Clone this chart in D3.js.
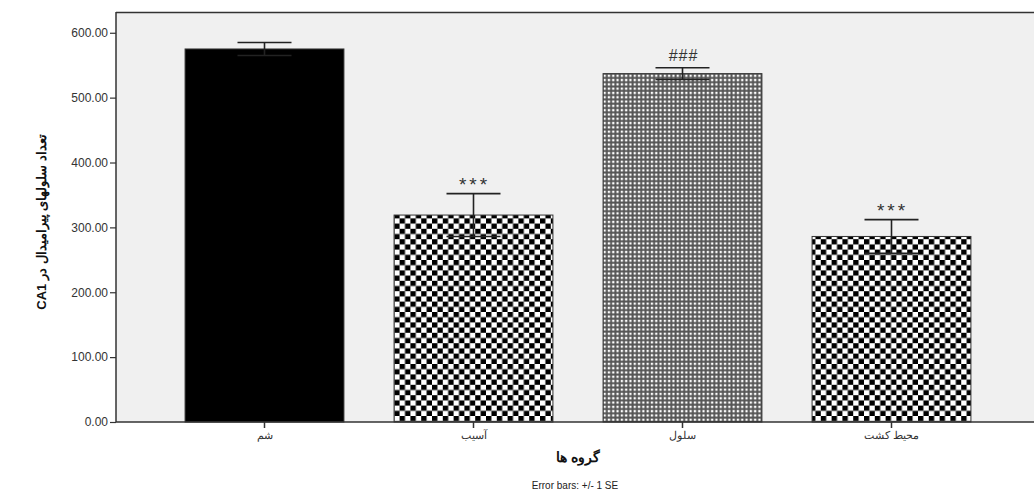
<!DOCTYPE html>
<html>
<head>
<meta charset="utf-8">
<script src="https://cdnjs.cloudflare.com/ajax/libs/d3/7.8.5/d3.min.js"></script>
<style>
  body { margin: 0; background: #fff; }
  text { font-family: "Liberation Sans", Arial, sans-serif; }
</style>
</head>
<body>
<script>
var categories = ["شم", "آسیب", "سلول", "محیط کشت"];
var means = [575, 319, 537, 286];
var errors = [10, 33, 9, 26];
var marks = ["", "***", "###", "***"];
var fills = ["#000", "url(#checker)", "url(#grid)", "url(#checker)"];
var yTicks = [0, 100, 200, 300, 400, 500, 600];

var width = 1034, height = 494;
var plotLeft = 116, plotTop = 12, plotBottom = 422;

var svg = d3.select("body").append("svg")
  .attr("width", width)
  .attr("height", height);

var defs = svg.append("defs");
var checker = defs.append("pattern")
  .attr("id", "checker")
  .attr("patternUnits", "userSpaceOnUse")
  .attr("width", 10.8).attr("height", 10.4);
checker.append("rect").attr("width", 10.8).attr("height", 10.4).attr("fill", "#fff");
checker.append("rect").attr("width", 5.4).attr("height", 5.2).attr("fill", "#000");
checker.append("rect").attr("x", 5.4).attr("y", 5.2).attr("width", 5.4).attr("height", 5.2).attr("fill", "#000");

var grid = defs.append("pattern")
  .attr("id", "grid")
  .attr("patternUnits", "userSpaceOnUse")
  .attr("width", 4.3).attr("height", 4.3);
grid.append("rect").attr("width", 4.3).attr("height", 4.3).attr("fill", "#555");
grid.append("rect").attr("x", 1.5).attr("y", 1.5).attr("width", 2.3).attr("height", 2.3).attr("fill", "#fff");

var x = d3.scaleBand()
  .domain(categories)
  .range([160, 996])
  .paddingInner(0.24)
  .paddingOuter(0.12);

var y = d3.scaleLinear()
  .domain([0, 632])
  .range([plotBottom, plotTop]);

// plot background and frame
svg.append("rect")
  .attr("x", plotLeft).attr("y", plotTop)
  .attr("width", width - plotLeft).attr("height", plotBottom - plotTop)
  .attr("fill", "#f0f0f0");
svg.append("line")
  .attr("x1", plotLeft).attr("x2", width)
  .attr("y1", plotTop + 0.5).attr("y2", plotTop + 0.5)
  .attr("stroke", "#333").attr("stroke-width", 1.5);

// bars
svg.selectAll(".bar")
  .data(categories)
  .enter().append("rect")
  .attr("class", "bar")
  .attr("x", function(d) { return x(d); })
  .attr("y", function(d, i) { return y(means[i]); })
  .attr("width", x.bandwidth())
  .attr("height", function(d, i) { return plotBottom - y(means[i]); })
  .attr("fill", function(d, i) { return fills[i]; })
  .attr("stroke", "#333")
  .attr("stroke-width", 1);

// error bars
var capW = 27;
var eb = svg.selectAll(".err")
  .data(categories)
  .enter().append("g")
  .attr("class", "err")
  .attr("stroke", "#222")
  .attr("stroke-width", 1.6);
eb.append("line")
  .attr("x1", function(d) { return x(d) + x.bandwidth() / 2; })
  .attr("x2", function(d) { return x(d) + x.bandwidth() / 2; })
  .attr("y1", function(d, i) { return y(means[i] - errors[i]); })
  .attr("y2", function(d, i) { return y(means[i] + errors[i]); });
eb.append("line")
  .attr("x1", function(d) { return x(d) + x.bandwidth() / 2 - capW; })
  .attr("x2", function(d) { return x(d) + x.bandwidth() / 2 + capW; })
  .attr("y1", function(d, i) { return y(means[i] + errors[i]); })
  .attr("y2", function(d, i) { return y(means[i] + errors[i]); });
eb.append("line")
  .attr("x1", function(d) { return x(d) + x.bandwidth() / 2 - capW; })
  .attr("x2", function(d) { return x(d) + x.bandwidth() / 2 + capW; })
  .attr("y1", function(d, i) { return y(means[i] - errors[i]); })
  .attr("y2", function(d, i) { return y(means[i] - errors[i]); });

// significance marks
svg.selectAll(".sig")
  .data(categories)
  .enter().append("text")
  .attr("class", "sig")
  .attr("x", function(d) { return x(d) + x.bandwidth() / 2 + 1; })
  .attr("y", function(d, i) {
    return y(means[i] + errors[i]) - (marks[i] == "###" ? 7 : 3);
  })
  .attr("text-anchor", "middle")
  .attr("font-size", function(d, i) { return marks[i] == "###" ? 16 : 19; })
  .attr("letter-spacing", function(d, i) { return marks[i] == "###" ? 1 : 3; })
  .attr("fill", "#333")
  .text(function(d, i) { return marks[i]; });

// y axis
var yAxis = svg.append("g")
  .attr("transform", "translate(" + plotLeft + ",0)")
  .call(d3.axisLeft(y).tickValues(yTicks).tickSize(6).tickFormat(d3.format(".2f")));
yAxis.select(".domain").attr("d", "M0," + plotTop + "V" + plotBottom).attr("stroke", "#333").attr("stroke-width", 1.5);
yAxis.selectAll(".tick line").attr("stroke", "#333").attr("stroke-width", 1.2);
yAxis.selectAll(".tick text")
  .attr("x", -8)
  .attr("font-size", 12)
  .attr("font-family", "Liberation Sans, Arial, sans-serif")
  .attr("fill", "#333");

// x axis
var xAxis = svg.append("g")
  .attr("transform", "translate(0," + plotBottom + ")")
  .call(d3.axisBottom(x).tickSize(6));
xAxis.select(".domain").attr("d", "M" + plotLeft + ",0H" + width).attr("stroke", "#333").attr("stroke-width", 1.5);
xAxis.selectAll(".tick line").attr("stroke", "#333").attr("stroke-width", 1.5);
xAxis.selectAll(".tick text")
  .attr("y", 9)
  .attr("font-size", 11)
  .attr("fill", "#333")
  .attr("font-family", "DejaVu Sans, sans-serif");

// titles
svg.append("text")
  .attr("x", 578).attr("y", 462)
  .attr("text-anchor", "middle")
  .attr("font-family", "DejaVu Sans, sans-serif")
  .attr("font-size", 14)
  .attr("font-weight", "bold")
  .attr("fill", "#111")
  .text("گروه ها");

svg.append("text")
  .attr("x", 575).attr("y", 489)
  .attr("text-anchor", "middle")
  .attr("font-size", 10)
  .attr("fill", "#222")
  .text("Error bars: +/- 1 SE");

svg.append("text")
  .attr("transform", "translate(46,222) rotate(-90)")
  .attr("text-anchor", "middle")
  .attr("direction", "rtl")
  .attr("font-family", "DejaVu Sans, sans-serif")
  .attr("font-size", 13)
  .attr("font-weight", "bold")
  .attr("fill", "#111")
  .text("تعداد سلولهای پیرامیدال در CA1");
</script>
</body>
</html>
